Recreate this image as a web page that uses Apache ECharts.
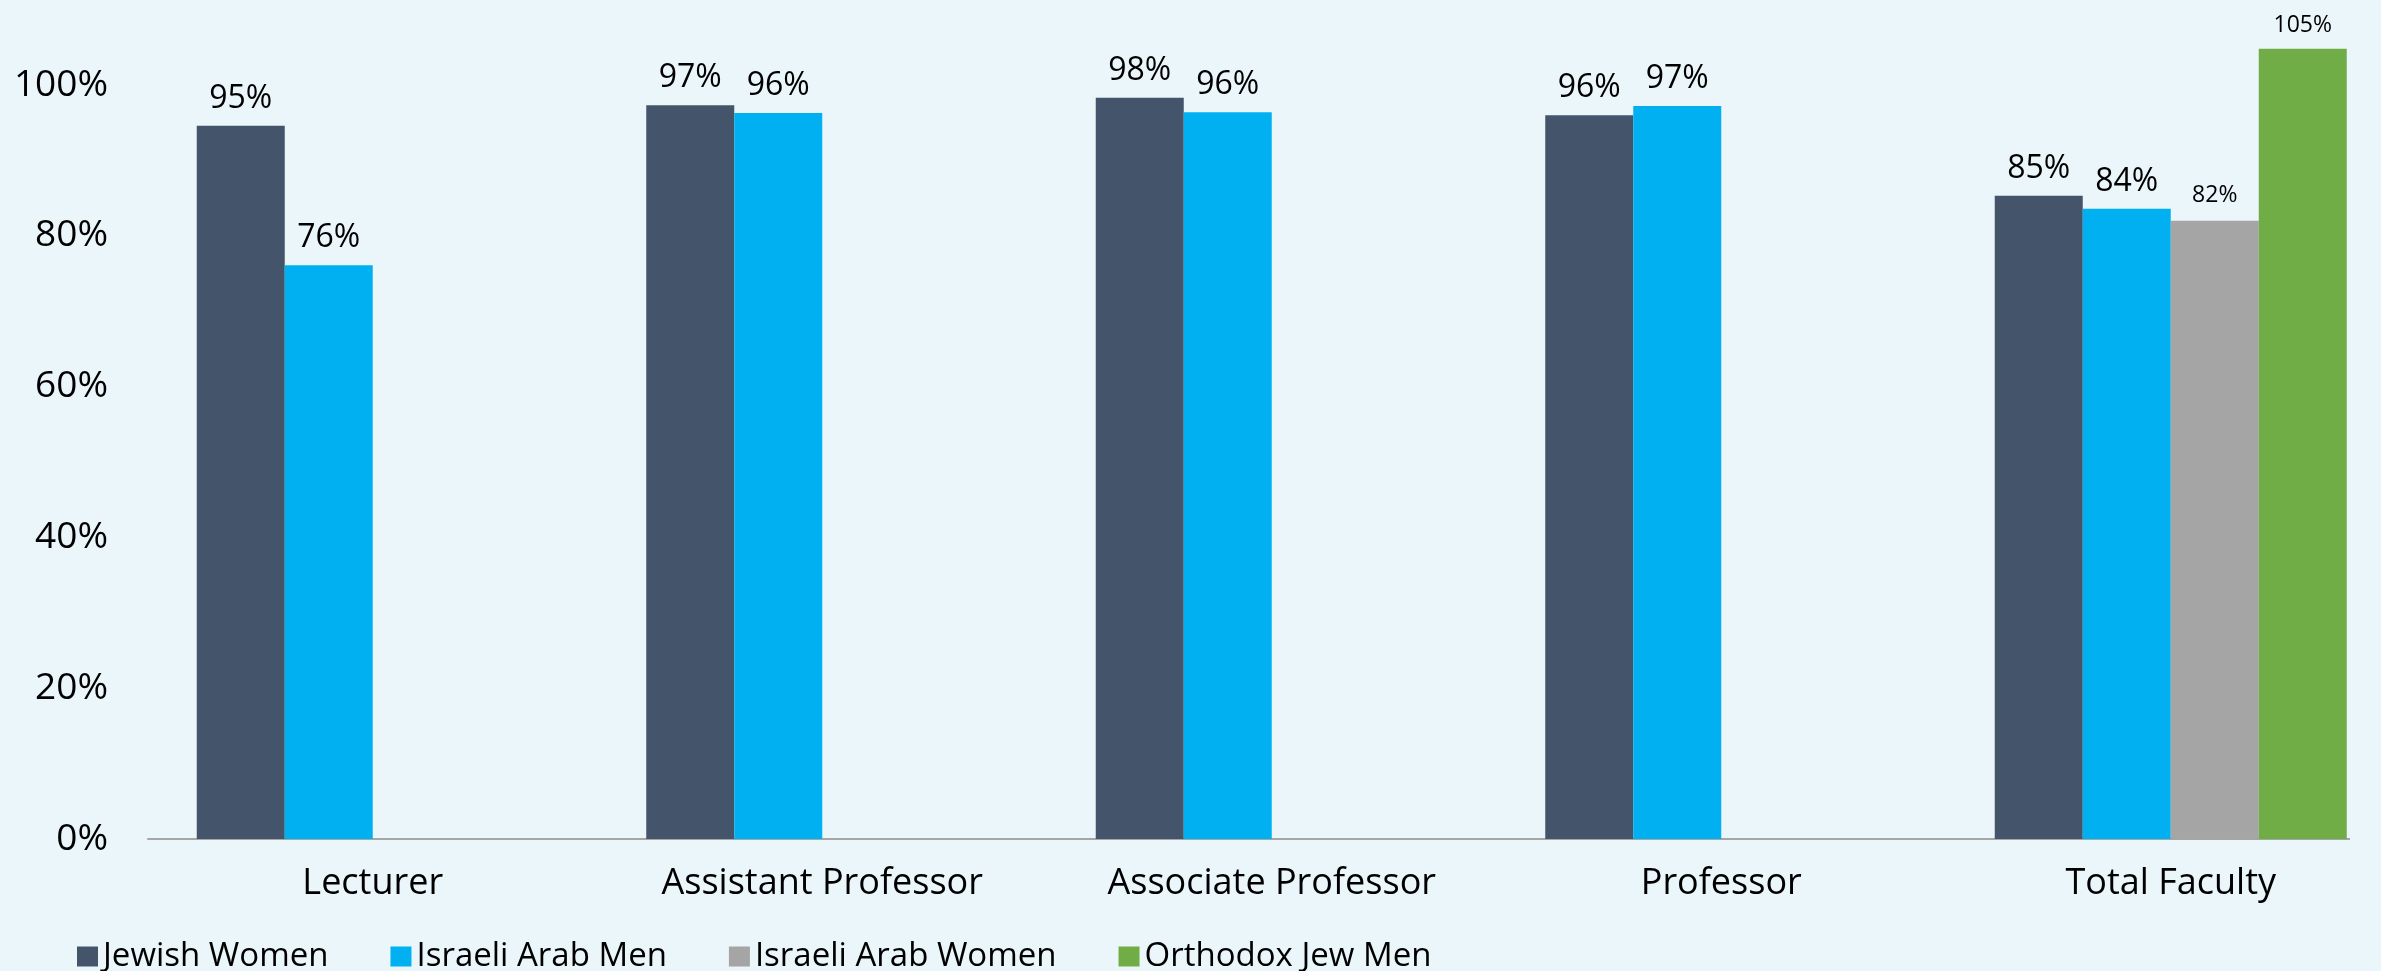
<!DOCTYPE html>
<html>
<head>
<meta charset="utf-8">
<script src="https://cdn.jsdelivr.net/npm/echarts@6/dist/echarts.min.js"></script>
<style>
  html, body { margin: 0; padding: 0; background: #EBF6FB; width: 2381px; height: 971px; overflow: hidden; }
  #wrap { width: 2350px; height: 971px; overflow: hidden; }
  #chart { width: 2400px; height: 971px; }
</style>
</head>
<body>
<div id="wrap"><div id="chart"></div></div>
<script>
const categories = ['Lecturer', 'Assistant Professor', 'Associate Professor', 'Professor', 'Total Faculty'];
const seriesNames = ['Jewish Women', 'Israeli Arab Men', 'Israeli Arab Women', 'Orthodox Jew Men'];
const jewishWomen = [94.6, 97.3, 98.3, 96.0, 85.3];
const israeliArabMen = [76.1, 96.3, 96.4, 97.2, 83.6];
const israeliArabWomen = [null, null, null, null, 82.0];
const orthodoxJewMen = [null, null, null, null, 104.8];
const colors = ['#44546A', '#00B0F0', '#A5A5A5', '#70AD47'];
const yTickLabels = [0, 20, 40, 60, 80, 100];

const FONT = '"Open Sans", "Noto Sans", sans-serif';
const chart = echarts.init(document.getElementById('chart'), null, { renderer: 'canvas' });

function makeSeries(name, data, color, labelSize, dist) {
  return {
    name: name,
    type: 'bar',
    data: data,
    barWidth: 88,
    barGap: '0%',
    itemStyle: { color: color },
    label: {
      show: true,
      position: 'top',
      distance: dist,
      fontFamily: FONT,
      fontSize: labelSize,
      color: '#000',
      formatter: p => Math.round(p.value) + '%'
    },
    clip: false
  };
}

chart.setOption({
  backgroundColor: '#EBF6FB',
  animation: false,
  color: colors,
  legend: {
    left: 72,
    top: 935,
    itemWidth: 21,
    itemHeight: 20,
    itemGap: 62,
    icon: 'rect',
    textStyle: { fontFamily: FONT, fontSize: 33, color: '#000' },
    data: seriesNames
  },
  grid: { left: 148, top: 9.6, width: 2247.5, height: 829.4, containLabel: false },
  xAxis: {
    type: 'category',
    data: categories,
    axisLine: { lineStyle: { color: '#A6A6A6', width: 2 } },
    axisTick: { show: false },
    axisLabel: { fontFamily: FONT, fontSize: 36, color: '#000', margin: 27, interval: 0 }
  },
  yAxis: {
    type: 'value',
    min: 0,
    max: 110,
    interval: 10,
    axisLine: { show: false },
    axisTick: { show: false },
    splitLine: { show: false },
    axisLabel: {
      fontFamily: FONT, fontSize: 37, color: '#000', margin: 40,
      formatter: v => yTickLabels.indexOf(v) >= 0 ? v + '%' : ''
    }
  },
  series: [
    makeSeries(seriesNames[0], jewishWomen, colors[0], 32, 11),
    makeSeries(seriesNames[1], israeliArabMen, colors[1], 32, 11),
    makeSeries(seriesNames[2], israeliArabWomen, colors[2], 23, 14),
    makeSeries(seriesNames[3], orthodoxJewMen, colors[3], 23, 12)
  ]
});
</script>
</body>
</html>
